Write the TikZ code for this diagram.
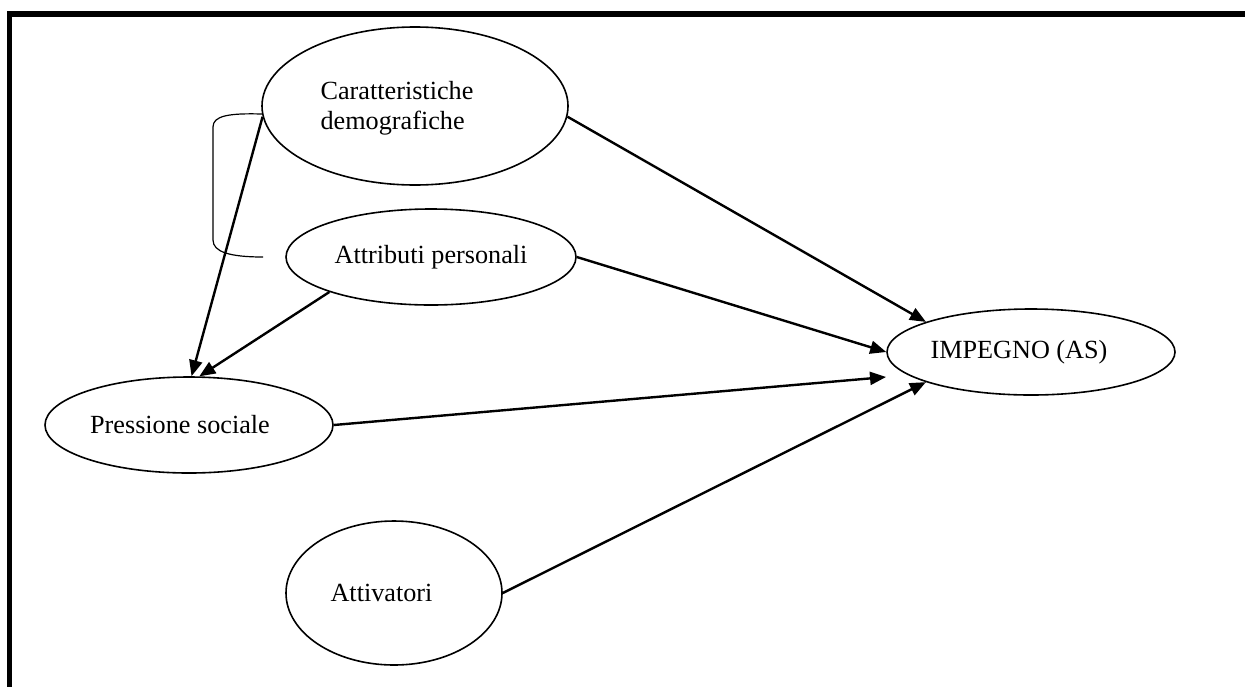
\documentclass[tikz,border=0pt]{standalone}
\usepackage{fontspec}
\setmainfont{Liberation Serif}
\usetikzlibrary{arrows.meta}
\usetikzlibrary{shapes.geometric}

\tikzset{
    latent/.style={shape=ellipse, draw=black, line width=0.8pt, inner sep=0pt},
    causal/.style={-{Triangle[length=8pt,width=6.5pt]}, line width=1.2pt},
}

\begin{document}
\begin{tikzpicture}[x=0.5pt,y=-0.5pt, font=\fontsize{13.1}{15}\selectfont]
    \useasboundingbox (0,0) rectangle (1245,686);
    % frame (top and left only)
    \draw[line width=2.8pt] (9.5,700) -- (9.5,13.8) -- (1260,13.8);

    \node[latent, minimum width=153pt, minimum height=79pt,
          label={[xshift=-9pt, yshift=-1pt, align=left, name=cdtext]center:Caratteristiche\\demografiche}] (cd) at (415,106) {};
    \node[latent, minimum width=145pt, minimum height=48pt] (ap) at (431,257) {Attributi personali};
    \node[latent, minimum width=144pt, minimum height=48pt,
          label={[xshift=-4.5pt, name=pstext]center:Pressione sociale}] (ps) at (189,425) {};
    \node[latent, minimum width=108pt, minimum height=72pt,
          label={[xshift=-6.25pt, name=attext]center:Attivatori}] (at) at (394,593) {};
    \node[latent, minimum width=144pt, minimum height=43pt,
          label={[xshift=-6pt, name=imptext]center:IMPEGNO (AS)}] (imp) at (1031,352) {};
    \coordinate (psend) at (886,377);

    % correlation bracket
    \draw[line width=0.6pt] (cd.183) .. controls (228,113) and (213,116) .. (213,127)
        -- (213,240) .. controls (213,252) and (230,257) .. (263,257);

    \draw[causal] (cd.184) -- (ps.87);
    \draw[causal] (ap.199) -- (ps.78);
    \draw[causal] (cd.-4) -- (imp.164);
    \draw[causal] (ap.east) -- (imp.west);
    \draw[causal] (ps.east) -- (psend);
    \draw[causal] (at.east) -- (imp.196);
\end{tikzpicture}
\end{document}
